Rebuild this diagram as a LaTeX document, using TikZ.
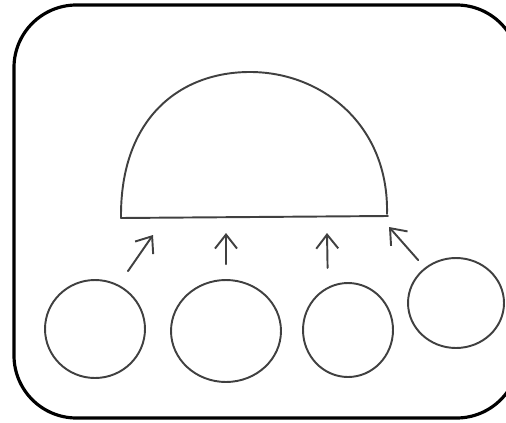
\documentclass[tikz,border=0pt]{standalone}
\usetikzlibrary{arrows.meta,shapes.geometric}
\tikzset{
  sketch/.style={line width=1.1pt,draw=black!75},
  blob/.style={sketch,ellipse,inner sep=0pt},
  flow/.style={sketch,-{Straight Barb[length=2.8mm,width=4.4mm]}},
}
\begin{document}
\begin{tikzpicture}[x=0.02cm,y=-0.02cm,line cap=round,line join=round]
  \useasboundingbox (0,0) rectangle (506,422);
  \draw[line width=1.8pt,rounded corners=1.25cm] (14,5) rectangle (519,418);
  \draw[sketch] (121,218) .. controls (120,118) and (180,72) .. (250,72) .. controls (322,72) and (389,125) .. (387,214);
  \draw[sketch] (121,218) -- (388,216);
  \node[blob,minimum width=2cm,minimum height=1.96cm] (b1) at (95,329) {};
  \node[blob,minimum width=2.2cm,minimum height=2.04cm] (b2) at (226,331) {};
  \node[blob,minimum width=1.8cm,minimum height=1.88cm] (b3) at (348,330) {};
  \node[blob,minimum width=1.92cm,minimum height=1.8cm] (b4) at (456,303) {};
  \coordinate (h1) at (153,235);
  \coordinate (h2) at (226,233);
  \coordinate (h3) at (327,233);
  \coordinate (h4) at (389,227);
  \draw[flow,shorten <=0.33cm] (b1.62) -- (h1);
  \draw[flow,shorten <=0.3cm] (b2.north) -- (h2);
  \draw[flow,shorten <=0.38cm] (b3.115) -- (h3);
  \draw[flow,shorten <=0.2cm] (b4) -- (h4);
\end{tikzpicture}
\end{document}
